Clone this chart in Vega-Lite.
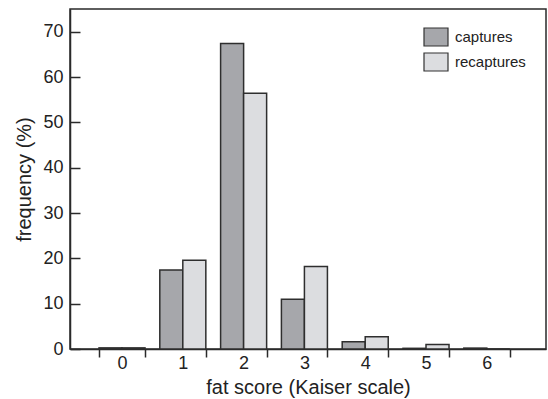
{
  "$schema": "https://vega.github.io/schema/vega-lite/v6.json",
  "width": 476,
  "height": 340,
  "autosize": {"type": "none"},
  "padding": {"left": 70, "top": 9, "right": 2, "bottom": 50},
  "background": "white",
  "config": {
    "font": "Liberation Sans",
    "view": {"stroke": "#2a2a2a", "strokeWidth": 1.5},
    "axis": {"labelColor": "#222", "titleColor": "#222", "domainColor": "#2a2a2a", "tickColor": "#2a2a2a", "domainWidth": 1.5, "tickWidth": 1.5, "grid": false, "labelFont": "Liberation Sans", "titleFont": "Liberation Sans", "titleFontWeight": "normal"}
  },
  "data": {
    "values": [
      {"score": "0", "group": "captures", "freq": 0.25},
      {"score": "0", "group": "recaptures", "freq": 0.25},
      {"score": "1", "group": "captures", "freq": 17.4},
      {"score": "1", "group": "recaptures", "freq": 19.6},
      {"score": "2", "group": "captures", "freq": 67.4},
      {"score": "2", "group": "recaptures", "freq": 56.4},
      {"score": "3", "group": "captures", "freq": 11.0},
      {"score": "3", "group": "recaptures", "freq": 18.2},
      {"score": "4", "group": "captures", "freq": 1.6},
      {"score": "4", "group": "recaptures", "freq": 2.7},
      {"score": "5", "group": "captures", "freq": 0.15},
      {"score": "5", "group": "recaptures", "freq": 1.0},
      {"score": "6", "group": "captures", "freq": 0.2},
      {"score": "6", "group": "recaptures", "freq": 0}
    ]
  },
  "mark": {"type": "bar", "stroke": "#2e2e2e", "strokeWidth": 1.5},
  "encoding": {
    "x": {
      "field": "score", "type": "ordinal",
      "scale": {"paddingInner": 0.243, "paddingOuter": 0.536, "align": 0.445},
      "axis": {"title": "fat score (Kaiser scale)", "labelAngle": 0, "labelFontSize": 18, "titleFontSize": 20, "tickSize": 8, "tickBand": "extent", "labelPadding": -3, "titlePadding": 5}
    },
    "xOffset": {"field": "group", "type": "nominal", "scale": {"paddingInner": 0, "paddingOuter": 0}},
    "y": {
      "field": "freq", "type": "quantitative",
      "scale": {"domain": [0, 75], "nice": false},
      "axis": {"title": "frequency (%)", "values": [0, 10, 20, 30, 40, 50, 60, 70], "labelFontSize": 18, "titleFontSize": 20, "tickSize": -10, "labelPadding": 17, "titlePadding": 8}
    },
    "fill": {
      "field": "group", "type": "nominal",
      "scale": {"domain": ["captures", "recaptures"], "range": ["#a6a7ab", "#dcdde0"]},
      "legend": {"title": null, "orient": "none", "legendX": 353, "legendY": 15, "labelFontSize": 15, "labelColor": "#222", "symbolType": "M-1,-0.75H1V0.75H-1Z", "symbolSize": 576, "symbolStrokeColor": "#333", "symbolStrokeWidth": 1.2, "rowPadding": -1, "labelOffset": 6, "padding": 0}
    }
  }
}
